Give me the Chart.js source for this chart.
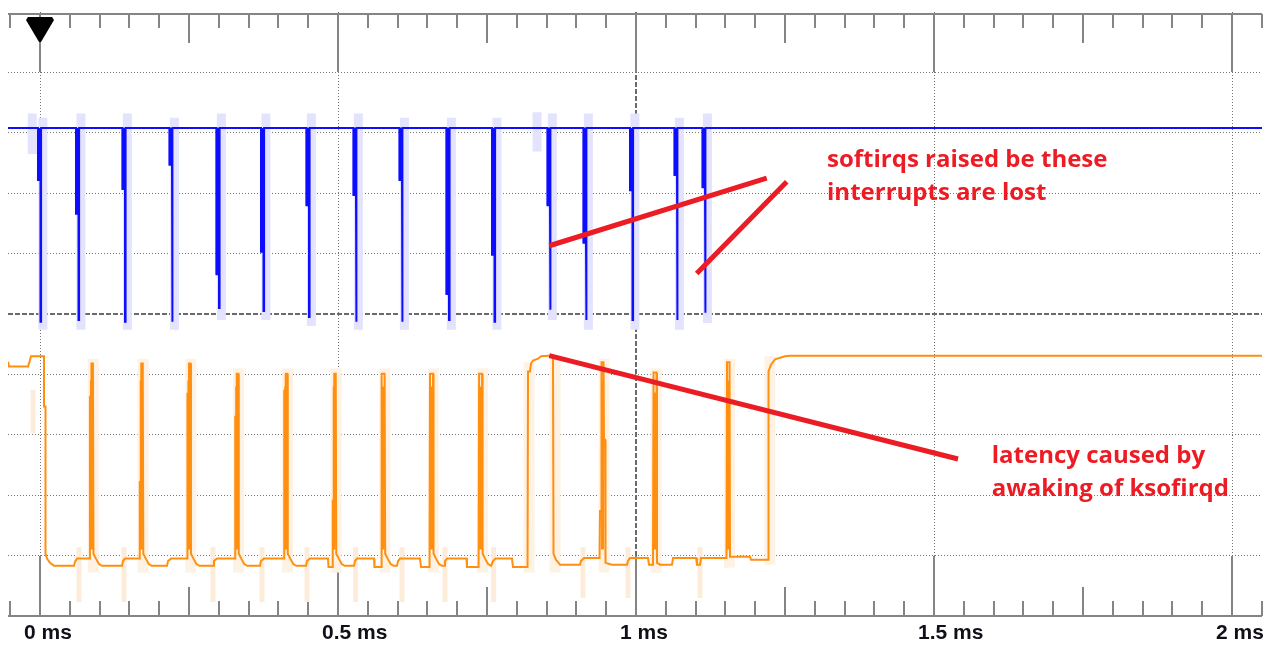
<!DOCTYPE html>
<html>
<head>
<meta charset="utf-8">
<title>softirq latency capture</title>
<script src="https://cdn.jsdelivr.net/npm/chart.js@4/dist/chart.umd.min.js"></script>
<style>
  html, body { margin: 0; padding: 0; background: #ffffff; }
  canvas { display: block; }
</style>
</head>
<body>
<canvas id="scope" width="1270" height="652" style="width:1270px;height:652px"></canvas>
<script>
// ---- axes: time in ms, vertical in screen divisions ----
const xMin = -0.0537, xMax = 2.0503;
const yMin = 0, yMax = 10;
const timeTicks = [0, 0.5, 1, 1.5, 2];
const timeLabels = ['0 ms', '0.5 ms', '1 ms', '1.5 ms', '2 ms'];
const divTicks = [1, 2, 3, 4, 5, 6, 7, 8, 9];
const minorStep = 0.05;

// ---- channel A (blue): interrupt line, idle high, one negative pulse per IRQ ----
const blueHigh = 8.08;
const blueFall = [-0.0034, 0.0604, 0.1384, 0.2173, 0.2961, 0.3708, 0.4471, 0.5260, 0.6032, 0.6820, 0.7584, 0.8515, 0.9119, 0.9899, 1.0646, 1.1116];
const blueDrop = [0.0008, 0.0646, 0.1426, 0.2215, 0.3003, 0.3750, 0.4513, 0.5302, 0.6074, 0.6862, 0.7626, 0.8557, 0.9161, 0.9941, 1.0688, 1.1158];
const blueRise = [0.0018, 0.0656, 0.1436, 0.2225, 0.3013, 0.3760, 0.4523, 0.5312, 0.6084, 0.6872, 0.7636, 0.8567, 0.9171, 0.9951, 1.0698, 1.1168];
const blueShoulder = [7.22, 6.66, 7.07, 7.47, 5.66, 6.03, 6.80, 6.97, 7.22, 5.33, 5.98, 6.80, 6.18, 7.05, 7.30, 7.10];
const blueTip = [4.87, 4.90, 4.87, 4.87, 5.10, 5.05, 4.95, 4.87, 4.87, 4.90, 4.87, 5.07, 4.90, 4.90, 4.90, 5.02];

// persistence (earlier sweeps) around the blue pulses
const blueGhostAt = [-0.0130, 0.0048, 0.0686, 0.1466, 0.2255, 0.3043, 0.3790, 0.4553, 0.5342, 0.6114, 0.6902, 0.7666, 0.8340, 0.8597, 0.9201, 0.9981, 1.0728, 1.1198];
const blueGhostTop = [8.32, 8.25, 8.32, 8.32, 8.25, 8.32, 8.32, 8.32, 8.32, 8.25, 8.25, 8.25, 8.34, 8.32, 8.32, 8.32, 8.25, 8.32];
const blueGhostBottom = [7.65, 4.74, 4.74, 4.74, 4.74, 4.90, 4.90, 4.80, 4.74, 4.74, 4.74, 4.74, 7.69, 4.90, 4.74, 4.74, 4.74, 4.85];

// ---- channel B (orange): task activity, [time ms, divisions] ----
const orangeTrace = [
  [-0.0537, 4.21], [-0.0520, 4.13], [-0.0201, 4.13], [-0.0176, 4.21], [-0.0151, 4.30], [0.0067, 4.30],
  [0.0067, 3.47], [0.0092, 3.47], [0.0092, 1.03], [0.0117, 0.95], [0.0168, 0.88], [0.0235, 0.83],
  [0.0570, 0.83], [0.0587, 0.90], [0.0621, 0.95],
  [0.0838, 0.95], [0.0838, 3.63], [0.0863, 3.63], [0.0863, 4.18], [0.0888, 4.18], [0.0897, 1.03], [0.0939, 0.95], [0.0989, 0.86], [0.1039, 0.83],
  [0.1376, 0.83], [0.1393, 0.91], [0.1426, 0.95],
  [0.1674, 0.95], [0.1674, 2.22], [0.1699, 2.22], [0.1699, 4.18], [0.1724, 4.18], [0.1733, 1.03], [0.1775, 0.95], [0.1825, 0.86], [0.1875, 0.83],
  [0.2131, 0.83], [0.2148, 0.91], [0.2198, 0.95],
  [0.2474, 0.95], [0.2474, 3.68], [0.2499, 3.68], [0.2499, 4.18], [0.2524, 4.18], [0.2533, 1.03], [0.2575, 0.95], [0.2625, 0.86], [0.2675, 0.83],
  [0.2903, 0.83], [0.2919, 0.91], [0.2970, 0.95],
  [0.3276, 0.95], [0.3276, 3.30], [0.3301, 3.30], [0.3301, 4.01], [0.3326, 4.01], [0.3335, 1.03], [0.3377, 0.95], [0.3427, 0.86], [0.3477, 0.83],
  [0.3691, 0.83], [0.3708, 0.91], [0.3758, 0.95],
  [0.4098, 0.95], [0.4098, 3.73], [0.4123, 3.73], [0.4123, 4.01], [0.4148, 4.01], [0.4157, 1.03], [0.4199, 0.95], [0.4249, 0.86], [0.4299, 0.83],
  [0.4463, 0.83], [0.4480, 0.91], [0.4530, 0.95],
  [0.4832, 0.95], [0.4841, 0.81], [0.4903, 0.81], [0.4912, 1.91], [0.4937, 1.91], [0.4937, 4.01], [0.4962, 4.01], [0.4971, 1.03], [0.5013, 0.95], [0.5063, 0.86], [0.5113, 0.83],
  [0.5268, 0.83], [0.5285, 0.91], [0.5319, 0.95],
  [0.5604, 0.95], [0.5612, 0.81], [0.5724, 0.81], [0.5732, 4.01], [0.5782, 4.01], [0.5791, 1.03], [0.5833, 0.95], [0.5883, 0.86], [0.5933, 0.83],
  [0.5990, 0.83], [0.6007, 0.91], [0.6040, 0.95],
  [0.6376, 0.95], [0.6393, 0.81], [0.6536, 0.81], [0.6544, 4.01], [0.6594, 4.01], [0.6603, 1.03], [0.6645, 0.95], [0.6695, 0.86], [0.6745, 0.83],
  [0.6779, 0.83], [0.6795, 0.91], [0.6829, 0.95],
  [0.7156, 0.95], [0.7164, 0.81], [0.7359, 0.81], [0.7367, 4.01], [0.7417, 4.01], [0.7426, 1.03], [0.7468, 0.95], [0.7518, 0.86], [0.7568, 0.83],
  [0.7601, 0.91], [0.7643, 0.95],
  [0.7919, 0.95], [0.7936, 0.81], [0.8180, 0.81], [0.8188, 4.05], [0.8221, 4.05], [0.8238, 4.18], [0.8272, 4.23], [0.8356, 4.26], [0.8406, 4.30], [0.8523, 4.31], [0.8607, 4.31],
  [0.8616, 1.03], [0.8658, 0.93], [0.8725, 0.85], [0.9060, 0.85],
  [0.9077, 0.91], [0.9128, 0.96],
  [0.9388, 0.96], [0.9396, 1.74], [0.9421, 1.74], [0.9421, 4.20], [0.9455, 4.20], [0.9463, 2.92], [0.9480, 2.92], [0.9488, 0.88], [0.9597, 0.85], [0.9849, 0.85],
  [0.9866, 0.91], [0.9899, 0.96],
  [1.0201, 0.96], [1.0218, 0.85], [1.0285, 0.85], [1.0294, 4.03], [1.0344, 4.03], [1.0352, 0.88], [1.0403, 0.85], [1.0604, 0.85],
  [1.0621, 0.96], [1.1007, 0.96], [1.1023, 0.85], [1.1074, 0.85], [1.1091, 0.96], [1.1493, 0.96],
  [1.1518, 0.96], [1.1527, 4.20], [1.1569, 4.20], [1.1577, 0.98], [1.1913, 0.98], [1.1930, 0.93], [1.2198, 0.93],
  [1.2215, 0.93], [1.2223, 4.05], [1.2265, 4.16], [1.2332, 4.25], [1.2500, 4.30], [1.2584, 4.31], [2.0600, 4.31]
];

// overlapping sweeps that thicken the body of each orange pulse
const orangeBurstAt = [0.0863, 0.1699, 0.2499, 0.3301, 0.4123, 0.4937, 0.5757, 0.6569, 0.7392, 0.9438, 1.0316, 1.1545];
const orangeBurstTop = [3.90, 3.90, 3.90, 3.80, 3.80, 3.80, 3.80, 3.80, 3.80, 3.90, 3.70, 3.90];
const orangeBurstBottom = [1.10, 1.10, 1.10, 1.10, 1.10, 1.10, 1.10, 1.10, 1.10, 1.10, 1.10, 1.10];

// persistence around the orange pulses (wide) and under the low level (narrow)
const orangeGhostAt = [0.0893, 0.1729, 0.2529, 0.3331, 0.4153, 0.4967, 0.5787, 0.6599, 0.7422, 0.8205, 0.8641, 0.9463, 1.0339, 1.1568, 1.2248];
const orangeGhostTop = [4.26, 4.26, 4.26, 4.10, 4.10, 4.10, 4.10, 4.10, 4.10, 4.20, 4.30, 4.26, 4.10, 4.26, 4.30];
const orangeGhostBottom = [0.72, 0.72, 0.72, 0.72, 0.72, 0.72, 0.72, 0.72, 0.72, 0.72, 0.72, 0.72, 0.72, 0.80, 0.85];
const orangeBlobAt = [-0.0117, 0.0654, 0.1409, 0.2903, 0.3725, 0.4480, 0.5295, 0.6074, 0.6795, 0.7611, 0.9111, 0.9866, 1.1074];
const orangeBlobTop = [3.74, 1.14, 1.14, 1.14, 1.14, 1.14, 1.14, 1.14, 1.14, 1.14, 1.14, 1.14, 1.14];
const orangeBlobBottom = [3.03, 0.23, 0.23, 0.23, 0.23, 0.23, 0.23, 0.23, 0.23, 0.23, 0.30, 0.30, 0.30];

// ---- annotations ----
const noteLines = [
  [[0.8545, 6.13], [1.2193, 7.25]],
  [[1.1018, 5.67], [1.2529, 7.19]],
  [[0.8545, 4.31], [1.5403, 2.60]]
];
const noteTexts = [
  { at: 1.3205, lineAt: [7.43, 6.89], lines: ['softirqs raised be these', 'interrupts are lost'] },
  { at: 1.5968, lineAt: [2.53, 1.98], lines: ['latency caused by', 'awaking of ksofirqd'] }
];
const triggerAt = 0;

// ---- styles ----
const BLUE = '#0d0dff', ORANGE = '#ff8f0f', RED = '#ec1c24';
const GRID = '#747474', FRAME = '#858585';

// ---- build plotted series from the arrays above ----
const bluePts = [{ x: xMin - 0.01, y: blueHigh }];
blueDrop.forEach((d, i) => {
  bluePts.push({ x: blueFall[i], y: blueHigh }, { x: blueFall[i], y: blueShoulder[i] },
               { x: d, y: blueShoulder[i] }, { x: d, y: blueTip[i] },
               { x: blueRise[i], y: blueTip[i] }, { x: blueRise[i], y: blueHigh });
});
bluePts.push({ x: xMax + 0.01, y: blueHigh });

const blueBurst = [];
blueDrop.forEach((d, i) => {
  const t = (blueFall[i] + d) / 2;
  blueBurst.push({ x: t, y: blueHigh }, { x: t, y: blueShoulder[i] }, { x: t, y: null });
});

function segments(at, top, bottom) {
  const out = [];
  at.forEach((t, i) => out.push({ x: t, y: top[i] }, { x: t, y: bottom[i] }, { x: t, y: null }));
  return out;
}

const lineDefaults = { pointRadius: 0, tension: 0, fill: false, borderJoinStyle: 'miter', borderCapStyle: 'butt', spanGaps: false };

const datasets = [
  Object.assign({ label: 'A persistence', data: segments(blueGhostAt, blueGhostTop, blueGhostBottom), borderColor: '#e3e3fd', borderWidth: 9, order: 20 }, lineDefaults),
  Object.assign({ label: 'B persistence', data: segments(orangeGhostAt, orangeGhostTop, orangeGhostBottom), borderColor: '#fef2e5', borderWidth: 11, order: 19 }, lineDefaults),
  Object.assign({ label: 'B persistence low', data: segments(orangeBlobAt, orangeBlobTop, orangeBlobBottom), borderColor: '#fdecda', borderWidth: 5, order: 18 }, lineDefaults),
  Object.assign({ label: 'B burst', data: segments(orangeBurstAt, orangeBurstTop, orangeBurstBottom), borderColor: ORANGE, borderWidth: 3, order: 7 }, lineDefaults),
  Object.assign({ label: 'B', data: orangeTrace.map(p => ({ x: p[0], y: p[1] })), borderColor: ORANGE, borderWidth: 2, order: 6 }, lineDefaults),
  Object.assign({ label: 'A burst', data: blueBurst, borderColor: BLUE, borderWidth: 4, order: 5 }, lineDefaults),
  Object.assign({ label: 'A', data: bluePts, borderColor: BLUE, borderWidth: 2, order: 4 }, lineDefaults)
];
noteLines.forEach((seg, i) => {
  datasets.push(Object.assign({ label: 'note ' + i, data: seg.map(p => ({ x: p[0], y: p[1] })), borderColor: RED, borderWidth: 5, order: 1 }, lineDefaults));
});

// frame, graticule ticks and solid major marks in the top and bottom bands
const scopeFrame = {
  id: 'scopeFrame',
  beforeDatasetsDraw(chart) {
    const { ctx, chartArea: a, scales: { x, y } } = chart;
    const yTopBand = Math.round(y.getPixelForValue(divTicks[divTicks.length - 1]));
    const yBottomBand = Math.round(y.getPixelForValue(divTicks[0]));
    ctx.save();
    ctx.strokeStyle = FRAME;
    ctx.lineWidth = 2;
    ctx.beginPath();
    ctx.moveTo(a.left, a.top + 2); ctx.lineTo(a.right, a.top + 2);
    ctx.moveTo(a.left, a.bottom); ctx.lineTo(a.right, a.bottom);
    ctx.stroke();
    ctx.beginPath();
    for (let k = Math.ceil(xMin / minorStep); k * minorStep <= xMax + 1e-9; k++) {
      const px = Math.round(x.getPixelForValue(k * minorStep));
      const major = k % 10 === 0, mid = !major && k % 5 === 0;
      const topEnd = major ? yTopBand : a.top + 2 + (mid ? 29 : 14);
      const botEnd = major ? yBottomBand : a.bottom - (mid ? 29 : 15);
      ctx.moveTo(px, a.top + 2); ctx.lineTo(px, topEnd);
      ctx.moveTo(px, a.bottom); ctx.lineTo(px, botEnd);
    }
    ctx.stroke();
    ctx.restore();
  },
  afterDatasetsDraw(chart) {
    const { ctx, chartArea: a, scales: { x, y } } = chart;
    ctx.save();
    // trigger marker
    const cx = Math.round(x.getPixelForValue(triggerAt));
    const t0 = a.top + 5;
    ctx.fillStyle = '#000';
    ctx.beginPath();
    ctx.moveTo(cx - 12, t0); ctx.lineTo(cx + 12, t0); ctx.lineTo(cx + 14, t0 + 3);
    ctx.lineTo(cx + 1, t0 + 25); ctx.lineTo(cx - 1, t0 + 25); ctx.lineTo(cx - 14, t0 + 3);
    ctx.closePath();
    ctx.fill();
    // notes
    ctx.fillStyle = RED;
    ctx.font = 'bold 24px "Open Sans", "DejaVu Sans", sans-serif';
    ctx.textAlign = 'left';
    ctx.textBaseline = 'alphabetic';
    noteTexts.forEach(n => {
      const px = x.getPixelForValue(n.at);
      n.lines.forEach((s, j) => ctx.fillText(s, px, y.getPixelForValue(n.lineAt[j])));
    });
    ctx.restore();
  }
};

const isCenterTime = c => c.tick && c.tick.value === 1;
const isCenterDiv = c => c.tick && c.tick.value === 5;

new Chart(document.getElementById('scope'), {
  type: 'line',
  data: { datasets },
  plugins: [scopeFrame],
  options: {
    responsive: false,
    animation: false,
    devicePixelRatio: 1,
    events: [],
    layout: { padding: { left: 8, right: 8, top: 12, bottom: 0 } },
    plugins: { legend: { display: false }, tooltip: { enabled: false } },
    scales: {
      x: {
        type: 'linear', min: xMin, max: xMax,
        afterBuildTicks: s => { s.ticks = timeTicks.map(v => ({ value: v })); },
        afterFit: s => { s.height = 36; s.paddingLeft = 0; s.paddingRight = 0; },
        grid: {
          drawTicks: false,
          color: c => isCenterTime(c) ? '#6a6a6a' : GRID,
          lineWidth: c => isCenterTime(c) ? 2 : 1
        },
        border: { display: false, dash: c => isCenterTime(c) ? [5, 2] : [1, 2] },
        ticks: {
          autoSkip: false, maxRotation: 0, align: 'start', labelOffset: -16, padding: 5,
          color: '#101018',
          font: { family: '"Liberation Sans", Arial, sans-serif', size: 21, weight: 'bold' },
          callback: (v, i) => timeLabels[i]
        }
      },
      y: {
        type: 'linear', min: yMin, max: yMax,
        afterBuildTicks: s => { s.ticks = divTicks.map(v => ({ value: v })); },
        afterFit: s => { s.width = 0; s.paddingTop = 0; s.paddingBottom = 0; },
        grid: {
          drawTicks: false,
          color: c => isCenterDiv(c) ? '#6a6a6a' : GRID,
          lineWidth: c => isCenterDiv(c) ? 2 : 1
        },
        border: { display: false, dash: c => isCenterDiv(c) ? [5, 2] : [1, 2] },
        ticks: { display: false }
      }
    }
  }
});
</script>
</body>
</html>
